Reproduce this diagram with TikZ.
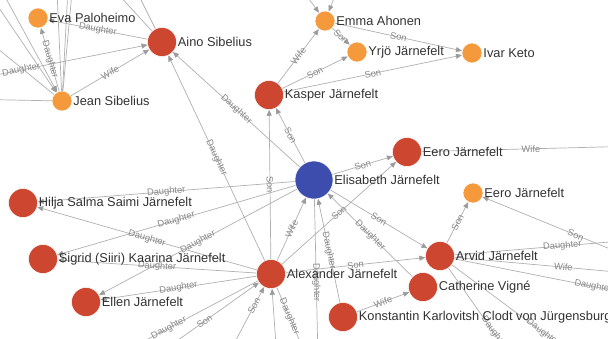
\documentclass[tikz,border=0pt]{standalone}
\usepackage{fontspec}
\setmainfont{Liberation Sans}
\usetikzlibrary{arrows.meta,backgrounds}
\definecolor{famred}{HTML}{CD4630}
\definecolor{famorange}{HTML}{F49A3C}
\definecolor{famblue}{HTML}{3C4DAE}
\definecolor{linkgray}{HTML}{B0B0B0}
\definecolor{tipgray}{HTML}{9C9C9C}
\definecolor{relgray}{HTML}{888888}
\definecolor{namegray}{HTML}{333333}
\begin{document}
\begin{tikzpicture}[x=1pt,y=-1pt,line join=round,line cap=round]
			\tikzset{person/.style={circle,inner sep=0pt,draw=white,line width=0.5pt},
				redp/.style={person,fill=famred,minimum size=29pt},
				orangep/.style={person,fill=famorange,minimum size=20pt},
				bluep/.style={person,fill=famblue,minimum size=38pt},
				who/.style={label={[font=\fontsize{12.8}{14}\selectfont,text=namegray,inner sep=1pt]right:#1}},
				link/.style={draw=linkgray,line width=0.7pt},
				rel/.style={link,-{Triangle[length=6pt,width=5pt,color=tipgray]}},
				lbl/.style={sloped,font=\fontsize{9.3}{10}\selectfont,text=relgray,inner sep=0pt}}
			\useasboundingbox (0,0) rectangle (608,338);
			\clip (0,0) rectangle (608,338);
			% family members
			\node[orangep,who={Eva Paloheimo}] (eva) at (38,18) {};
			\node[redp,who={Aino Sibelius}] (aino) at (162,42) {};
			\node[orangep,who={Jean Sibelius}] (jean) at (62,101) {};
			\node[orangep,who={Emma Ahonen}] (emma) at (325,21) {};
			\node[orangep,who={Yrjö Järnefelt}] (yrjo) at (357,52) {};
			\node[orangep,who={Ivar Keto}] (ivar) at (472,53) {};
			\node[redp,who={Kasper Järnefelt}] (kasper) at (269,95) {};
			\node[bluep,who={Elisabeth Järnefelt}] (elisabeth) at (314,180) {};
			\node[redp,who={Eero Järnefelt}] (eeroR) at (407,152) {};
			\node[orangep,who={Eero Järnefelt}] (eeroO) at (473,193) {};
			\node[redp,who={Hilja Salma Saimi Järnefelt}] (hilja) at (23,203) {};
			\node[redp,who={Sigrid (Siiri) Kaarina Järnefelt}] (sigrid) at (43,259) {};
			\node[redp,who={Alexander Järnefelt}] (alexander) at (271,274) {};
			\node[redp,who={Arvid Järnefelt}] (arvid) at (440,256) {};
			\node[redp,who={Catherine Vigné}] (catherine) at (423,287) {};
			\node[redp,who={Ellen Järnefelt}] (ellen) at (86,302) {};
			\node[redp,who={Konstantin Karlovitsh Clodt von Jürgensburg}] (konstantin) at (343,317) {};
			% relatives outside the view
			\coordinate (offJa) at (-15,-40);
			\coordinate (offJb) at (-28,-32);
			\coordinate (offJc) at (-40,18);
			\coordinate (offJd) at (56,-30);
			\coordinate (offJe) at (69,-30);
			\coordinate (offJf) at (74,-30);
			\coordinate (offJg) at (-40,99);
			\coordinate (offAa) at (-105,95);
			\coordinate (offAb) at (96,-30);
			\coordinate (offAc) at (126,-30);
			\coordinate (offEa) at (345,-30);
			\coordinate (offEb) at (288,-30);
			\coordinate (offEr) at (640,146);
			\coordinate (offEo) at (669,273);
			\coordinate (offRa) at (670,237);
			\coordinate (offRb) at (672,277);
			\coordinate (offRc) at (732,314);
			\coordinate (offRd) at (540,398);
			\coordinate (offRe) at (634,400);
			\coordinate (offXa) at (80,375);
			\coordinate (offXb) at (150,360);
			\coordinate (offXc) at (228,355);
			\coordinate (offXd) at (277,360);
			\coordinate (offXe) at (308,360);
			\coordinate (offXf) at (318,360);
			\begin{scope}[on background layer]
				\clip (0,0) rectangle (608,338);
				\fill[white] (0,0) rectangle (608,338);
				\draw[rel] (offJa) -- (jean);
				\draw[rel] (offJb) -- (jean);
				\draw[link] (jean) -- (offJc);
				\draw[link] (jean) -- (offJd);
				\draw[link] (jean) -- (offJe);
				\draw[link] (jean) -- (offJf);
				\draw[link] (jean) -- (offJg);
				\draw[rel] (offAa) -- node[lbl]{Daughter} (aino);
				\draw[link] (aino) -- (offAb);
				\draw[link] (aino) -- (offAc);
				\draw[rel] (jean) -- node[lbl]{Wife} (aino);
				\draw[rel] (jean) -- node[lbl]{Daughter} (eva);
				\draw[rel] (aino) -- node[lbl]{Daughter} (eva);
				\draw[rel] (elisabeth) -- node[lbl]{Daughter} (aino);
				\draw[rel] (alexander) -- node[lbl]{Daughter} (aino);
				\draw[rel] (alexander) -- node[lbl]{Son} (kasper);
				\draw[rel] (elisabeth) -- node[lbl]{Son} (kasper);
				\draw[rel] (offEa) -- (emma);
				\draw[rel] (offEb) -- (emma);
				\draw[rel] (kasper) -- node[lbl]{Wife} (emma);
				\draw[rel] (kasper) -- node[lbl]{Son} (yrjo);
				\draw[rel] (kasper) -- node[lbl]{Son} (ivar);
				\draw[rel] (emma) -- node[lbl]{Son} (yrjo);
				\draw[rel] (emma) -- node[lbl]{Son} (ivar);
				\draw[rel] (elisabeth) -- node[lbl]{Son} (eeroR);
				\draw[rel] (alexander) -- node[lbl]{Son} (eeroR);
				\draw[link] (eeroR) -- node[lbl]{Wife} (offEr);
				\draw[rel] (elisabeth) -- node[lbl]{Son} (arvid);
				\draw[rel] (alexander) -- node[lbl]{Son} (arvid);
				\draw[rel] (arvid) -- node[lbl]{Son} (eeroO);
				\draw[rel] (offEo) -- node[lbl]{Son} (eeroO);
				\draw[link] (arvid) -- node[lbl]{Daughter} (offRa);
				\draw[link] (arvid) -- node[lbl]{Wife} (offRb);
				\draw[link] (arvid) -- node[lbl]{Daughter} (offRc);
				\draw[link] (arvid) -- node[lbl]{Daughter} (offRd);
				\draw[link] (arvid) -- node[lbl]{Daughter} (offRe);
				\draw[rel] (alexander) -- node[lbl]{Wife} (elisabeth);
				\draw[rel] (catherine) -- node[lbl]{Daughter} (elisabeth);
				\draw[rel] (konstantin) -- node[lbl]{Daughter} (elisabeth);
				\draw[rel] (konstantin) -- node[lbl]{Wife} (catherine);
				\draw[rel] (elisabeth) -- node[lbl]{Daughter} (hilja);
				\draw[rel] (elisabeth) -- node[lbl]{Daughter} (sigrid);
				\draw[rel] (elisabeth) -- node[lbl]{Daughter} (ellen);
				\draw[rel] (alexander) -- node[lbl]{Daughter} (hilja);
				\draw[rel] (alexander) -- node[lbl]{Daughter} (sigrid);
				\draw[rel] (alexander) -- node[lbl]{Daughter} (ellen);
				\draw[link] (alexander) -- node[lbl]{Daughter} (offXa);
				\draw[rel] (offXb) -- node[lbl]{Son} (alexander);
				\draw[rel] (offXc) -- node[lbl,pos=0.72]{Son} (alexander);
				\draw[rel] (offXd) -- (alexander);
				\draw[link] (alexander) -- node[lbl,pos=0.4]{Daughter} (offXe);
				\draw[link] (elisabeth) -- node[lbl,pos=0.52]{Daughter} (offXf);
			\end{scope}
\end{tikzpicture}
\end{document}
